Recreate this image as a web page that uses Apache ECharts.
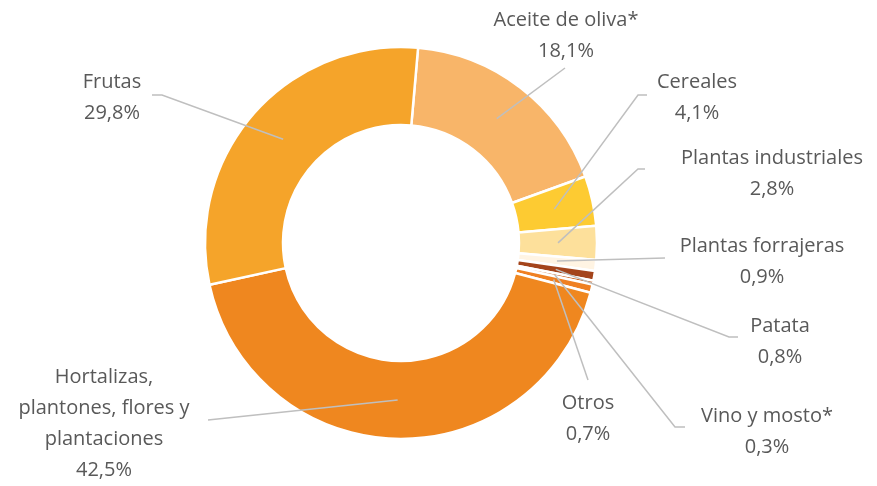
<!DOCTYPE html>
<html><head><meta charset="utf-8">
<script src="https://cdn.jsdelivr.net/npm/echarts@6/dist/echarts.min.js"></script>
<style>html,body{margin:0;padding:0;background:#fff}#c{width:877px;height:486px}</style>
</head><body><div id="c"></div>
<script>
// ---- data ----
const categories = ['Aceite de oliva*', 'Cereales', 'Plantas industriales', 'Plantas forrajeras', 'Patata', 'Vino y mosto*', 'Otros', 'Hortalizas,\nplantones, flores y\nplantaciones', 'Frutas'];
const values = [18.1, 4.1, 2.8, 0.9, 0.8, 0.3, 0.7, 42.5, 29.8];
const colors = ['#F8B569', '#FDCB32', '#FDE09B', '#FFF4E3', '#A4441B', '#C65A16', '#EF8022', '#EF871F', '#F5A42A'];

// ---- layout (label anchors and guide-line bends, pixels) ----
const CX = 401, CY = 243, R0 = 118, R1 = 196, START = 85;
const labelAnchors = [[566,36],[697,98],[772,174],[762,262],[780,342],[767,432],[588,419],[104,424],[112,98]];
const guideEnds = [
  [[565,68]],
  [[638,95],[647,95]],
  [[638,169],[645,169]],
  [[665,258]],
  [[729,337],[738,337]],
  [[675,427],[685,427]],
  [[588,380]],
  [[208,420]],
  [[162,95],[152,95]]
];

const total = values.reduce((a,b)=>a+b,0);
const midAngles = [];
let acc = 0;
values.forEach(v => { midAngles.push((90 - START) + (acc + v/2) / total * 360); acc += v; });

const pieData = categories.map((c,i) => ({ name: c, value: values[i], itemStyle: { color: colors[i] } }));

const chart = echarts.init(document.getElementById('c'), null, {renderer:'canvas'});
chart.setOption({
  animation: false,
  backgroundColor: '#ffffff',
  series: [{
    type: 'pie',
    z: 2,
    silent: true,
    center: [CX, CY],
    radius: [R0, R1],
    startAngle: START,
    clockwise: true,
    itemStyle: { borderColor: '#ffffff', borderWidth: 2.5 },
    data: pieData,
    label: { show: false },
    labelLine: { show: false }
  }, {
    type: 'pie',
    z: 5,
    silent: true,
    center: [CX, CY],
    radius: [R0, R1],
    startAngle: START,
    clockwise: true,
    avoidLabelOverlap: false,
    itemStyle: { color: 'rgba(0,0,0,0)', borderWidth: 0 },
    data: categories.map((c,i) => ({ name: c, value: values[i] })),
    label: {
      show: true,
      position: 'outside',
      formatter: p => p.name + '\n' + p.value.toFixed(1).replace('.', ',') + '%',
      fontFamily: 'Open Sans',
      fontSize: 20,
      lineHeight: 31,
      color: '#595959',
      align: 'center'
    },
    labelLine: { show: true, lineStyle: { color: '#BFBFBF', width: 1.5 } },
    labelLayout: function (params) {
      const i = params.dataIndex;
      const a = midAngles[i] * Math.PI / 180;
      const rm = (R0 + R1) / 2;
      const sx = CX + rm * Math.sin(a), sy = CY - rm * Math.cos(a);
      return {
        x: labelAnchors[i][0],
        y: labelAnchors[i][1],
        align: 'center',
        verticalAlign: 'middle',
        labelLinePoints: [[sx, sy]].concat(guideEnds[i])
      };
    }
  }]
});
</script>
</body></html>
